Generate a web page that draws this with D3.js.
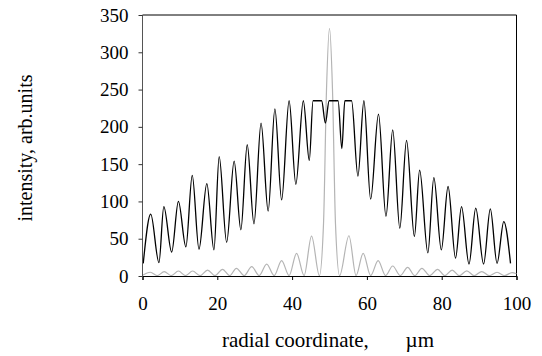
<!DOCTYPE html>
<html>
<head>
<meta charset="utf-8">
<script src="https://cdn.jsdelivr.net/npm/d3@7"></script>
<style>
  html, body { margin: 0; padding: 0; background: #fff; }
  svg { display: block; }
  svg text { font-family: "Liberation Serif", "Times New Roman", "DejaVu Serif", serif; fill: #000; }
</style>
</head>
<body>
<svg id="chart" width="542" height="356"></svg>
<script>
// ---- data ----
const xTicks = [0, 20, 40, 60, 80, 100];
const yTicks = [0, 50, 100, 150, 200, 250, 300, 350];

// black curve: radial coordinate (µm) and intensity
const blackX = [0.2, 2.2, 4.4, 5.7, 7.8, 9.6, 11.6, 13.3, 15.1, 17.2, 19.1, 20.5, 22.5, 24.5, 26.3, 28.0, 29.8, 31.7, 33.6, 35.4, 37.2, 39.2, 41.0, 43.0, 44.6, 45.6, 47.9, 48.9, 49.9, 52.3, 53.3, 54.1, 55.9, 57.6, 59.2, 61.0, 63.1, 65.1, 66.9, 68.8, 70.6, 72.7, 74.1, 76.3, 77.9, 79.9, 81.7, 83.7, 85.3, 87.3, 89.1, 91.2, 93.0, 94.8, 96.6, 98.4];
const blackY = [17, 83, 18, 93, 32, 100, 39, 135, 36, 124, 35, 160, 45, 154, 62, 176, 70, 205, 87, 224, 102, 235, 123, 235, 155, 235, 235, 205, 235, 235, 171, 235, 235, 134, 235, 103, 217, 80, 196, 64, 182, 53, 142, 31, 132, 35, 120, 24, 93, 16, 91, 16, 90, 17, 73, 17];

// gray curve
const grayX = [0, 2.1, 4.0, 5.8, 7.7, 9.6, 11.5, 13.4, 15.4, 17.4, 19.4, 21.4, 23.3, 25.1, 27.2, 29.2, 31.2, 33.2, 35.2, 37.2, 39.2, 41.2, 43.2, 45.2, 47.3, 48.4, 49.2, 50.0, 50.8, 51.6, 52.7, 55.2, 57.1, 59.0, 61.0, 63.0, 65.0, 66.9, 68.9, 70.9, 72.8, 74.7, 76.8, 78.9, 80.8, 82.8, 84.7, 86.7, 88.7, 90.7, 92.7, 94.8, 96.8, 98.8, 100];
const grayY = [1, 5, 0.5, 5.8, 0.5, 6.7, 0.5, 6.7, 0.5, 8, 0.5, 9, 0.5, 10.3, 0.5, 12.5, 0.5, 16, 0.5, 20.5, 0.5, 30.4, 0.5, 53.6, 0.5, 70, 250, 332, 250, 70, 0.5, 54, 0.5, 30.4, 0.5, 20.5, 0.5, 13.4, 0.5, 11.6, 0.5, 10.3, 0.5, 9, 0.5, 8, 0.5, 7, 0.5, 6, 0.5, 5, 0.5, 4.5, 3];

const xTitle = "radial coordinate,       \u00b5m";
const yTitle = "intensity, arb.units";

// ---- layout ----
const L = 142.5, R = 516.5, T = 15, B = 276;
const svg = d3.select("#chart");
const x = d3.scaleLinear().domain([0, 100]).range([L, R]);
const y = d3.scaleLinear().domain([0, 350]).range([B, T]);

const line = d3.line().x(d => x(d[0])).y(d => y(d[1])).curve(d3.curveMonotoneX);

// plot frame (top & right)
svg.append("path")
  .attr("d", `M${L},${T}H${R}V${B}`)
  .attr("fill", "none").attr("stroke", "#000").attr("stroke-width", 1);

// gray curve
svg.append("path")
  .datum(grayX.map((v, i) => [v, grayY[i]]))
  .attr("d", line)
  .attr("fill", "none").attr("stroke", "#b4b4b4").attr("stroke-width", 1.2);

// black curve
svg.append("path")
  .datum(blackX.map((v, i) => [v, blackY[i]]))
  .attr("d", line)
  .attr("fill", "none").attr("stroke", "#000").attr("stroke-width", 1.3);

// axes
const xAxis = d3.axisBottom(x).tickValues(xTicks).tickSize(4).tickPadding(17).tickFormat(d3.format("d"));
const gx = svg.append("g").attr("transform", `translate(0,${B})`).call(xAxis)
  .attr("font-family", null).attr("font-size", null);
gx.select(".domain").attr("stroke", "#000");
gx.selectAll(".tick line").attr("stroke", "#000");
gx.selectAll("text").style("font-size", "19px");

const yAxis = d3.axisLeft(y).tickValues(yTicks).tickSize(4).tickPadding(10).tickFormat(d3.format("d"));
const gy = svg.append("g").attr("transform", `translate(${L},0)`).call(yAxis)
  .attr("font-family", null).attr("font-size", null);
gy.select(".domain").attr("stroke", "#555").attr("d", `M0,${B}V${T}`);
gy.selectAll(".tick line").attr("stroke", "#333");
gy.selectAll("text").style("font-size", "19px");

// titles
svg.append("text")
  .attr("x", 328).attr("y", 347)
  .attr("text-anchor", "middle")
  .style("font-size", "21px")
  .style("white-space", "pre")
  .attr("xml:space", "preserve")
  .text(xTitle);

svg.append("text")
  .attr("transform", "translate(32,148) rotate(-90)")
  .attr("text-anchor", "middle")
  .style("font-size", "20px")
  .text(yTitle);
</script>
</body>
</html>
